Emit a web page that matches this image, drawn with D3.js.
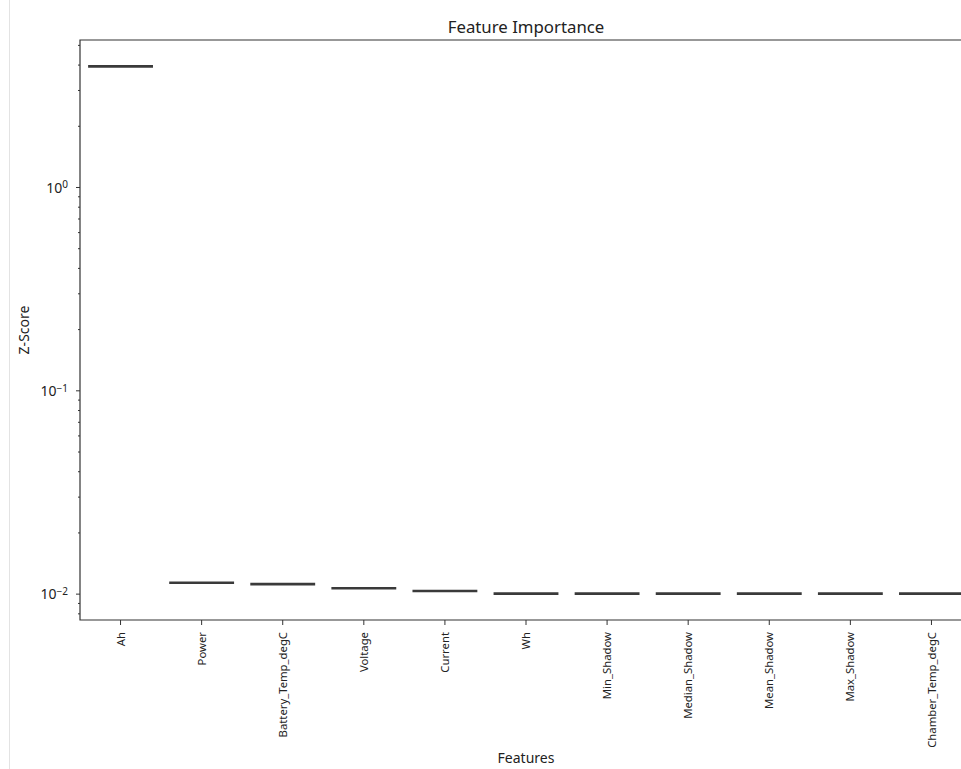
<!DOCTYPE html>
<html>
<head>
<meta charset="utf-8">
<script src="https://cdn.jsdelivr.net/npm/d3@7"></script>
<style>
  html, body { margin: 0; padding: 0; background: #fff; }
  svg { display: block; }
  text { font-family: "Noto Sans", "DejaVu Sans", sans-serif; fill: #222; }
</style>
</head>
<body>
<script>
// Feature names, in ranked order
const features = ["Ah", "Power", "Battery_Temp_degC", "Voltage", "Current", "Wh",
  "Min_Shadow", "Median_Shadow", "Mean_Shadow", "Max_Shadow", "Chamber_Temp_degC"];
// Median Z-score per feature (the boxes collapse onto the median)
const medians = [3.92, 0.01132, 0.01114, 0.01062, 0.01030, 0.0100,
  0.0100, 0.0100, 0.0100, 0.0100, 0.0100];
// Major tick values on the log axis
const majorTicks = [1, 0.1, 0.01];
const majorLabels = [["10", "0"], ["10", "\u22121"], ["10", "\u22122"]];

const W = 961, H = 769;
const margin = { left: 80, top: 40, bottom: 149 };
const plotRight = 972;   // the axes run slightly past the window edge

const svg = d3.select("body").append("svg").attr("width", W).attr("height", H);

// thin cell border on the left
svg.append("line").attr("x1", 9.5).attr("x2", 9.5).attr("y1", 0).attr("y2", H)
  .attr("stroke", "#e3e3e3").attr("stroke-width", 1);

// Log y domain padded by 5% of the decade span on each side
const lmin = Math.log10(d3.min(medians)), lmax = Math.log10(d3.max(medians));
const pad = (lmax - lmin) * 0.05;
const y = d3.scaleLog()
  .domain([Math.pow(10, lmin - pad), Math.pow(10, lmax + pad)])
  .range([H - margin.bottom, margin.top]);

const x = d3.scaleBand().domain(features).range([margin.left, plotRight]).padding(0);
const bw = x.bandwidth() * 0.8;

const g = svg.append("g");

// boxes (degenerate: q1 = median = q3)
g.selectAll("line.box").data(features).join("line")
  .attr("class", "box")
  .attr("x1", (d) => x(d) + (x.bandwidth() - bw) / 2)
  .attr("x2", (d) => x(d) + (x.bandwidth() + bw) / 2)
  .attr("y1", (d, i) => y(medians[i]))
  .attr("y2", (d, i) => y(medians[i]))
  .attr("stroke", "#3a3a3a").attr("stroke-width", 2.6);

// y axis: major + minor ticks
const [d0, d1] = y.domain();
const minor = [];
for (let e = Math.floor(Math.log10(d0)); e <= Math.ceil(Math.log10(d1)); e++) {
  for (let m = 2; m <= 9; m++) {
    const v = m * Math.pow(10, e);
    if (v >= d0 && v <= d1) minor.push(v);
  }
}
const yAxisMinor = d3.axisLeft(y).tickValues(minor).tickSize(2).tickFormat("");
const yAxisMajor = d3.axisLeft(y).tickValues(majorTicks).tickSize(4).tickPadding(6).tickFormat("");

const gyMinor = svg.append("g").attr("transform", `translate(${margin.left},0)`).call(yAxisMinor);
const gy = svg.append("g").attr("transform", `translate(${margin.left},0)`).call(yAxisMajor);
gyMinor.select(".domain").remove();
gy.select(".domain").remove();
svg.selectAll(".tick line").attr("stroke", "#333").attr("stroke-width", 1);

gy.selectAll(".tick").each(function (d, i) {
  const t = d3.select(this).append("text")
    .attr("x", -12).attr("dy", "0.38em")
    .attr("text-anchor", "end")
    .style("font-size", "14px").style("fill", "#222");
  t.append("tspan").text(majorLabels[i][0]);
  t.append("tspan").attr("dy", "-0.45em").style("font-size", "10px").text(majorLabels[i][1]);
});

// x axis
const gx = svg.append("g").attr("transform", `translate(0,${H - margin.bottom})`)
  .call(d3.axisBottom(x).tickSize(5).tickFormat(""));
gx.select(".domain").remove();
gx.selectAll(".tick line").attr("stroke", "#333");
gx.selectAll(".tick").append("text")
  .attr("transform", "translate(0,12) rotate(-90)")
  .attr("text-anchor", "end")
  .attr("dy", "0.36em")
  .style("font-size", "11.3px").style("fill", "#222")
  .text((d) => d);

// spines (left, top, bottom)
const yTop = margin.top, yBot = H - margin.bottom;
svg.append("path")
  .attr("d", `M${plotRight},${yTop}H${margin.left}V${yBot}H${plotRight}`)
  .attr("fill", "none").attr("stroke", "#333").attr("stroke-width", 1.2);

// title and axis labels
const cx = (margin.left + plotRight) / 2;
svg.append("text").attr("x", cx).attr("y", 33).attr("text-anchor", "middle")
  .style("font-size", "16.8px").text("Feature Importance");
svg.append("text").attr("x", cx).attr("y", 763).attr("text-anchor", "middle")
  .style("font-size", "14px").text("Features");
svg.append("text").attr("transform", `translate(29,${(yTop + yBot) / 2}) rotate(-90)`)
  .attr("text-anchor", "middle").style("font-size", "14px").text("Z-Score");
</script>
</body>
</html>
